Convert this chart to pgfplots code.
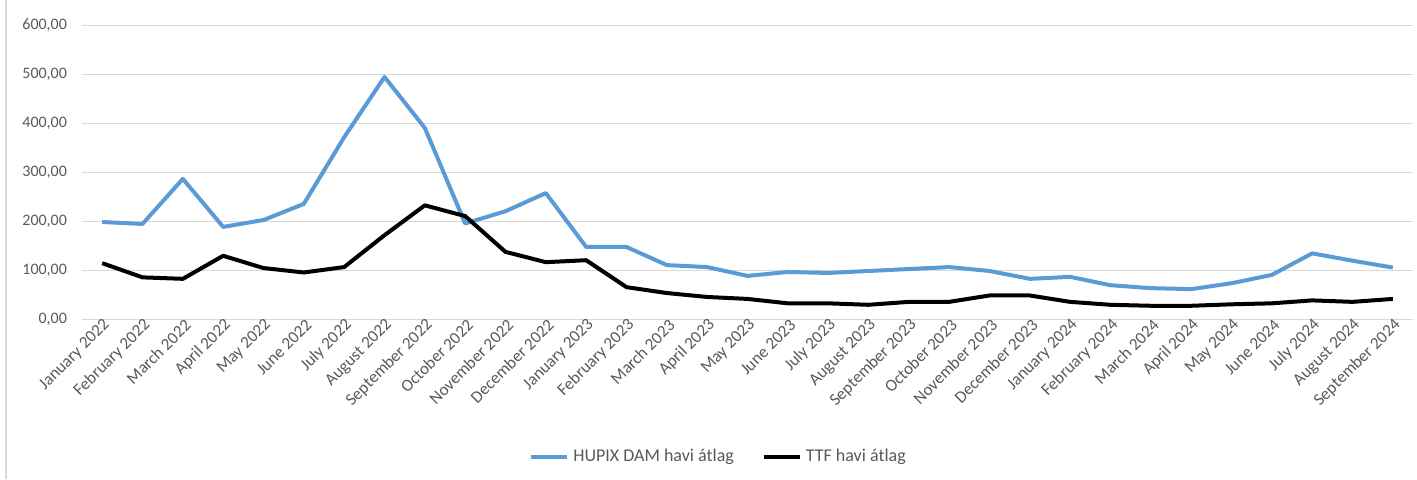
\documentclass[border=0pt]{standalone}
\usepackage{fontspec}
\setmainfont{Carlito}
\usepackage{pgfplots}
\pgfplotsset{compat=1.18}

\definecolor{hupix}{HTML}{5B9BD5}
\definecolor{gridgray}{HTML}{D9D9D9}
\definecolor{txtgray}{HTML}{595959}

% monthly averages, 0 = January 2022 ... 32 = September 2024
\pgfplotstableread{
idx hupix ttf
0  198 114
1  194 85
2  286 82
3  188 129
4  202 104
5  235 95
6  371 106
7  494 171
8  390 232
9  195 210
10 220 137
11 257 116
12 147 120
13 147 65
14 110 53
15 106 45
16 88  41
17 96  32
18 94  32
19 98  29
20 102 35
21 106 35
22 98  48
23 82  48
24 86  35
25 69  29
26 63  27
27 61  27
28 73  30
29 90  32
30 134 38
31 119 35
32 105 41
}\prices

\begin{document}
\begin{tikzpicture}
\useasboundingbox (-41pt,-80pt) rectangle (667.5pt,159.5pt);
\draw[gridgray, line width=0.6pt] (-38pt,-80pt) -- (-38pt,159.5pt);
\begin{axis}[
  at={(0,0)}, anchor=south west,
  width=665.5pt, height=147pt, scale only axis,
  xmin=-0.5, xmax=32.5,
  ymin=0, ymax=600,
  ytick={0,100,...,600},
  xtick={0,...,32},
  xticklabels={January 2022, February 2022, March 2022, April 2022, May 2022, June 2022, July 2022, August 2022, September 2022, October 2022, November 2022, December 2022, January 2023, February 2023, March 2023, April 2023, May 2023, June 2023, July 2023, August 2023, September 2023, October 2023, November 2023, December 2023, January 2024, February 2024, March 2024, April 2024, May 2024, June 2024, July 2024, August 2024, September 2024},
  axis line style={draw=none},
  major tick style={draw=none},
  ymajorgrids, grid style={gridgray, line width=0.5pt},
  ticklabel style={text=txtgray},
  /pgf/number format/fixed,
  /pgf/number format/fixed zerofill,
  /pgf/number format/precision=2,
  /pgf/number format/use comma,
  /pgf/number format/assume math mode=true,
  xticklabel style={font=\fontsize{8.5}{10}\selectfont, rotate=45, anchor=east, xshift=4pt, yshift=-3pt},
  yticklabel style={font=\fontsize{8}{10}\selectfont, xshift=-4pt},
  legend columns=2,
  legend style={at={(0.479,-0.47)}, anchor=center, draw=none, fill=none,
    font=\fontsize{9}{11}\selectfont, text=txtgray,
    /tikz/every even column/.append style={column sep=12pt}},
  legend image code/.code={\draw[#1] (0pt,0pt) -- (18pt,0pt);},
]
\addplot[hupix, line width=2pt, line join=round] table[x=idx, y=hupix] {\prices};
\addlegendentry{HUPIX DAM havi átlag}
\addplot[black, line width=2pt, line join=round] table[x=idx, y=ttf] {\prices};
\addlegendentry{TTF  havi átlag}
\end{axis}
\end{tikzpicture}
\end{document}
